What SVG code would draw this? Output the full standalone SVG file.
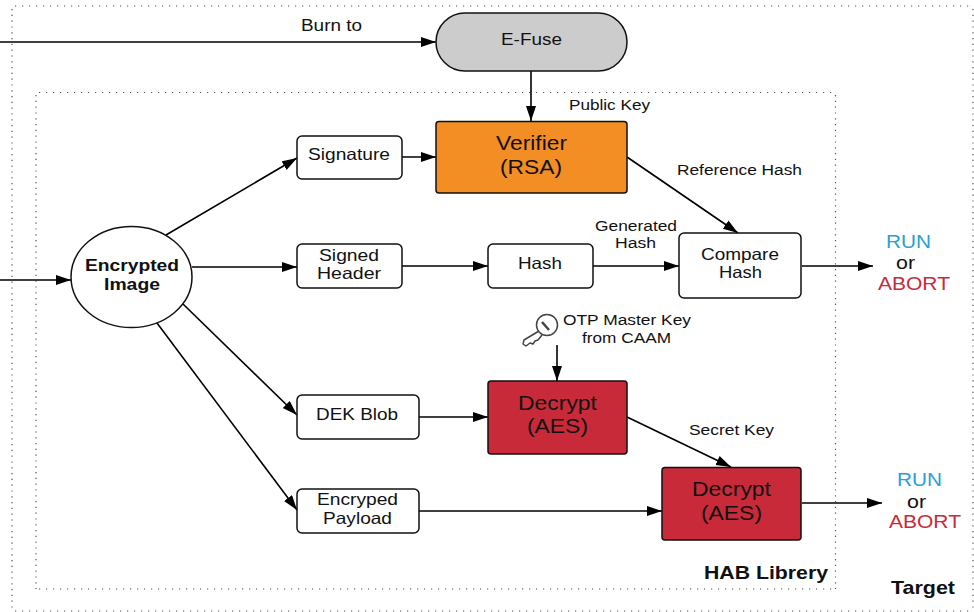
<svg xmlns="http://www.w3.org/2000/svg" width="974" height="612" viewBox="0 0 974 612">
<style>
text{font-family:"Liberation Sans",Arial,sans-serif;fill:#111;text-anchor:middle;lengthAdjust:spacingAndGlyphs}
.b{fill:#fff;stroke:#111;stroke-width:1.5}
.o{fill:#f28e24;stroke:#111;stroke-width:1.5}
.r{fill:#c92a3a;stroke:#111;stroke-width:1.5}
.l{fill:none;stroke:#000;stroke-width:1.6;marker-end:url(#a)}
.dh{fill:none;stroke:#555;stroke-width:1.200;stroke-dasharray:1.200 5.800}
.dv{fill:none;stroke:#555;stroke-width:1.200;stroke-dasharray:1.200 4.600}
.s{font-size:15.5px}.m{font-size:16.5px}.h{font-size:21px}
</style>
<defs><marker id="a" markerUnits="userSpaceOnUse" markerWidth="16" markerHeight="12" refX="15" refY="5" orient="auto"><path d="M0 0L15 5L0 10Z" fill="#000"/></marker></defs>
<rect width="974" height="612" fill="#fff"/>
<path class="dh" d="M15 6H973M15 611H973"/><path class="dv" d="M12 9V611M973 9V611"/>
<path class="dh" d="M39 92.500H835M39 589H835"/><path class="dv" d="M36 95V589M835.500 95V589"/>
<g id="connectors">
<path class="l" d="M0 42H436"/><path class="l" d="M531 71V121"/><path class="l" d="M402 157H436"/>
<path class="l" d="M166 235L297 158"/><path class="l" d="M192 267H297"/><path class="l" d="M183 304L297 415"/><path class="l" d="M157 323L297 510"/>
<path class="l" d="M0 280H71"/><path class="l" d="M402 266H488"/><path class="l" d="M593 266H679"/><path class="l" d="M627 157L738 233"/>
<path class="l" d="M802 266H873"/><path class="l" d="M557 345V381"/><path class="l" d="M419 417H488"/><path class="l" d="M627 417L731 467"/>
<path class="l" d="M419 511H662"/><path class="l" d="M802 503H882"/>
</g>
<g id="efuse"><rect x="436" y="13" width="191" height="58" rx="29" fill="#ccc" stroke="#111" stroke-width="1.5"/><text class="m" x="531.500" y="45" textLength="61" lengthAdjust="spacingAndGlyphs">E-Fuse</text></g>
<g id="verifier"><rect class="o" x="436" y="121.500" width="191" height="71.500" rx="3"/><text class="h" x="531.500" y="150" textLength="71" lengthAdjust="spacingAndGlyphs">Verifier</text><text class="h" x="531" y="174" textLength="62" lengthAdjust="spacingAndGlyphs">(RSA)</text></g>
<g id="signature"><rect class="b" x="297" y="136" width="105" height="43" rx="5"/><text class="m" x="349" y="160" textLength="82" lengthAdjust="spacingAndGlyphs">Signature</text></g>
<g id="image"><ellipse class="b" cx="131.500" cy="277" rx="60.500" ry="50.500"/><text x="132" y="271" font-size="16.500" font-weight="bold" textLength="94" lengthAdjust="spacingAndGlyphs">Encrypted</text><text x="132" y="290" font-size="16.500" font-weight="bold" textLength="56" lengthAdjust="spacingAndGlyphs">Image</text></g>
<g id="header"><rect class="b" x="297" y="244" width="105" height="44" rx="5"/><text class="m" x="349" y="261" textLength="60" lengthAdjust="spacingAndGlyphs">Signed</text><text class="m" x="349" y="279" textLength="64" lengthAdjust="spacingAndGlyphs">Header</text></g>
<g id="hash"><rect class="b" x="488" y="244" width="105" height="44" rx="5"/><text class="m" x="540" y="269" textLength="44" lengthAdjust="spacingAndGlyphs">Hash</text></g>
<g id="compare"><rect class="b" x="679" y="233" width="122" height="65" rx="5"/><text class="m" x="740" y="260" textLength="78" lengthAdjust="spacingAndGlyphs">Compare</text><text class="m" x="740.500" y="278" textLength="43" lengthAdjust="spacingAndGlyphs">Hash</text></g>
<g id="dek"><rect class="b" x="297" y="395" width="122" height="44" rx="5"/><text class="m" x="357" y="420" textLength="82" lengthAdjust="spacingAndGlyphs">DEK Blob</text></g>
<g id="payload"><rect class="b" x="297" y="489" width="122" height="44" rx="5"/><text class="m" x="357.500" y="505" textLength="81" lengthAdjust="spacingAndGlyphs">Encryped</text><text class="m" x="357.500" y="524" textLength="69" lengthAdjust="spacingAndGlyphs">Payload</text></g>
<g id="decrypt1"><rect class="r" x="488" y="381" width="139" height="73" rx="3"/><text class="h" x="557.500" y="410" textLength="79" lengthAdjust="spacingAndGlyphs">Decrypt</text><text class="h" x="557.500" y="433" textLength="61" lengthAdjust="spacingAndGlyphs">(AES)</text></g>
<g id="decrypt2"><rect class="r" x="662" y="467.500" width="139" height="72.500" rx="3"/><text class="h" x="731.500" y="496" textLength="79" lengthAdjust="spacingAndGlyphs">Decrypt</text><text class="h" x="731.500" y="520" textLength="61" lengthAdjust="spacingAndGlyphs">(AES)</text></g>
<g id="key" fill="#fff" stroke="#444" stroke-width="1.500" stroke-linejoin="round"><path d="M539 331L524 340L523 344L526 346L530 343L533 344L535 341L538 340L542 335"/><circle cx="547" cy="325" r="10.500"/><path d="M542 322L549 330" stroke-width="2.500"/></g>
<g id="labels">
<text class="m" x="331.500" y="31" textLength="61" lengthAdjust="spacingAndGlyphs">Burn to</text>
<text class="s" x="609.500" y="110" textLength="81" lengthAdjust="spacingAndGlyphs">Public Key</text>
<text class="s" x="739.500" y="175" textLength="125" lengthAdjust="spacingAndGlyphs">Reference Hash</text>
<text class="s" x="636" y="231" textLength="82" lengthAdjust="spacingAndGlyphs">Generated</text><text class="s" x="635.500" y="248" textLength="41" lengthAdjust="spacingAndGlyphs">Hash</text>
<text class="s" x="627" y="325" textLength="128" lengthAdjust="spacingAndGlyphs">OTP Master Key</text><text class="s" x="626.500" y="343" textLength="89" lengthAdjust="spacingAndGlyphs">from CAAM</text>
<text class="s" x="731.500" y="435" textLength="85" lengthAdjust="spacingAndGlyphs">Secret Key</text>
<text x="908.500" y="248" font-size="19" style="fill:#2a9fd6" textLength="45" lengthAdjust="spacingAndGlyphs">RUN</text><text x="905.500" y="269" font-size="19" textLength="19" lengthAdjust="spacingAndGlyphs">or</text><text x="914" y="290" font-size="19" style="fill:#c92a3a" textLength="72" lengthAdjust="spacingAndGlyphs">ABORT</text>
<text x="919.500" y="486" font-size="19" style="fill:#2a9fd6" textLength="45" lengthAdjust="spacingAndGlyphs">RUN</text><text x="916.500" y="508" font-size="19" textLength="19" lengthAdjust="spacingAndGlyphs">or</text><text x="925" y="528" font-size="19" style="fill:#c92a3a" textLength="72" lengthAdjust="spacingAndGlyphs">ABORT</text>
<text x="766" y="579" font-size="18.500" font-weight="bold" textLength="124" lengthAdjust="spacingAndGlyphs">HAB Librery</text>
<text x="923" y="594" font-size="18.500" font-weight="bold" textLength="64" lengthAdjust="spacingAndGlyphs">Target</text>
</g>
</svg>
